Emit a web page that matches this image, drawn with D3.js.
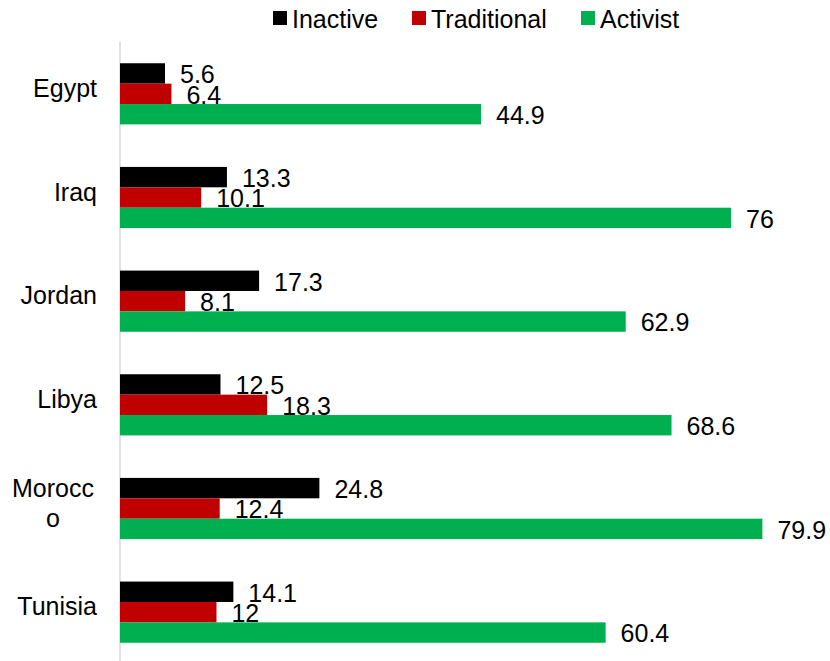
<!DOCTYPE html>
<html><head><meta charset="utf-8">
<script src="https://cdn.jsdelivr.net/npm/d3@7"></script>
<style>body{margin:0;background:#fff}svg{display:block}text{font-family:Arial,"Liberation Sans",sans-serif}</style>
</head><body><svg id="c" width="830" height="661"></svg>
<script>
const countries = ["Egypt","Iraq","Jordan","Libya","Morocco","Tunisia"];
const countryLabels = [["Egypt"],["Iraq"],["Jordan"],["Libya"],["Morocc","o"],["Tunisia"]];
const seriesNames = ["Inactive","Traditional","Activist"];
const inactive = [5.6,13.3,17.3,12.5,24.8,14.1];
const traditional = [6.4,10.1,8.1,18.3,12.4,12];
const activist = [44.9,76,62.9,68.6,79.9,60.4];
const colors = ["#000000","#C00000","#00B050"];

const values = [inactive, traditional, activist];
const svg = d3.select("#c");
const x = d3.scaleLinear().domain([0,100]).range([120,924]);
const y0 = d3.scaleBand().domain(countries).range([42,664]).paddingInner(0.41).paddingOuter(0.205);
const y1 = d3.scaleBand().domain(seriesNames).range([0,y0.bandwidth()]);
const fs = 25;

// axis line
svg.append("line").attr("x1",x(0)).attr("x2",x(0)).attr("y1",42).attr("y2",661)
  .attr("stroke","#d9d9d9").attr("stroke-width",1.5);

const data = [];
countries.forEach((c,i)=>seriesNames.forEach((s,j)=>data.push({c,s,v:values[j][i],col:colors[j]})));

svg.selectAll("rect.bar").data(data).join("rect").attr("class","bar")
  .attr("x",x(0)).attr("y",d=>y0(d.c)+y1(d.s)).attr("width",d=>x(d.v)-x(0))
  .attr("height",y1.bandwidth()).attr("fill",d=>d.col);

svg.selectAll("text.val").data(data).join("text").attr("class","val")
  .attr("x",d=>x(d.v)+15).attr("y",d=>y0(d.c)+y1(d.s)+y1.bandwidth()/2+1)
  .attr("dy","0.35em").attr("font-size",fs).attr("fill","#000").text(d=>d.v);

// category labels
countries.forEach((c,i)=>{
  const lines = countryLabels[i];
  const cy = y0(c)+y0.bandwidth()/2;
  const multi = lines.length>1;
  lines.forEach((l,k)=>{
    svg.append("text").attr("x",multi?53:97)
      .attr("y",cy+3+(k-(lines.length-1)/2)*30)
      .attr("text-anchor",multi?"middle":"end").attr("font-size",fs).attr("fill","#000").text(l);
  });
});

// legend
const legX = [273,412,581];
seriesNames.forEach((s,j)=>{
  svg.append("rect").attr("x",legX[j]).attr("y",11).attr("width",14).attr("height",14).attr("fill",colors[j]);
  svg.append("text").attr("x",legX[j]+19).attr("y",28).attr("font-size",fs).attr("fill","#000").text(s);
});
</script></body></html>
